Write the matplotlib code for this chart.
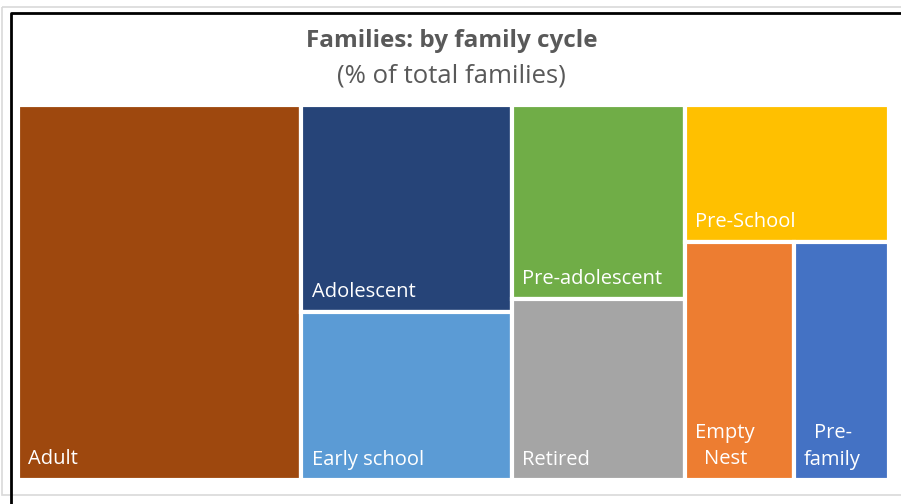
import matplotlib.pyplot as plt
from matplotlib.patches import Rectangle

# share of total families (%)
names = ['Adult', 'Adolescent', 'Early school', 'Pre-adolescent', 'Retired',
         'Pre-School', 'Empty Nest', 'Pre-family']
values = [32.6, 13.4, 10.8, 10.3, 9.6, 8.6, 7.9, 6.9]
labels = ['Adult', 'Adolescent', 'Early school', 'Pre-adolescent', 'Retired',
          'Pre-School', 'Empty\nNest', 'Pre-\nfamily']
colors = ['#9E480E', '#264478', '#5B9BD5', '#70AD47', '#A5A5A5',
          '#FFC000', '#ED7D31', '#4472C4']

# how Excel grouped the tiles: columns, each stacked top to bottom,
# a nested list is split left to right
layout = [['Adult'], ['Adolescent', 'Early school'], ['Pre-adolescent', 'Retired'],
          ['Pre-School', ['Empty Nest', 'Pre-family']]]

val = dict(zip(names, values))


def total(item):
    if isinstance(item, list):
        return sum(total(i) for i in item)
    return val[item]


def tiles(x0, y0, x1, y1):
    out = {}
    grand = total(layout)
    x = x0
    for col in layout:
        w = (x1 - x0) * total(col) / grand
        y = y0
        for item in col:
            h = (y1 - y0) * total(item) / total(col)
            if isinstance(item, list):
                xx = x
                for sub in item:
                    ww = w * val[sub] / total(item)
                    out[sub] = (xx, y, ww, h)
                    xx += ww
            else:
                out[item] = (x, y, w, h)
            y += h
        x += w
    return out


plt.rcParams['font.family'] = ['Open Sans', 'DejaVu Sans']

fig = plt.figure(figsize=(9.01, 5.04), dpi=100)
ax = fig.add_axes([0, 0, 1, 1])
ax.set_xlim(0, 901)
ax.set_ylim(504, 0)
ax.axis('off')

# chart frame (screenshot borders)
ax.add_patch(Rectangle((2, 7), 960, 488, fill=False, edgecolor='#D9D9D9', lw=1.2))
ax.plot([11, 11, 901], [504, 13, 13], color='black', lw=2, solid_capstyle='butt')

ax.text(452, 41, 'Families: by family cycle', ha='center', va='center',
        fontsize=17.5, fontweight='bold', color='#595959')
ax.text(451, 76, '(% of total families)', ha='center', va='center',
        fontsize=18.5, color='#595959')

rects = tiles(17.5, 104.5, 888.5, 479.5)
for name, lab, c in zip(names, labels, colors):
    x, y, w, h = rects[name]
    ax.add_patch(Rectangle((x, y), w, h, facecolor=c, edgecolor='white', lw=3))
    ax.text(x + 10.5, y + h - 10, lab, ha='left', va='bottom', multialignment='center',
            fontsize=14.5, color='white', linespacing=1.45)

fig.savefig('out.png', dpi=100)
